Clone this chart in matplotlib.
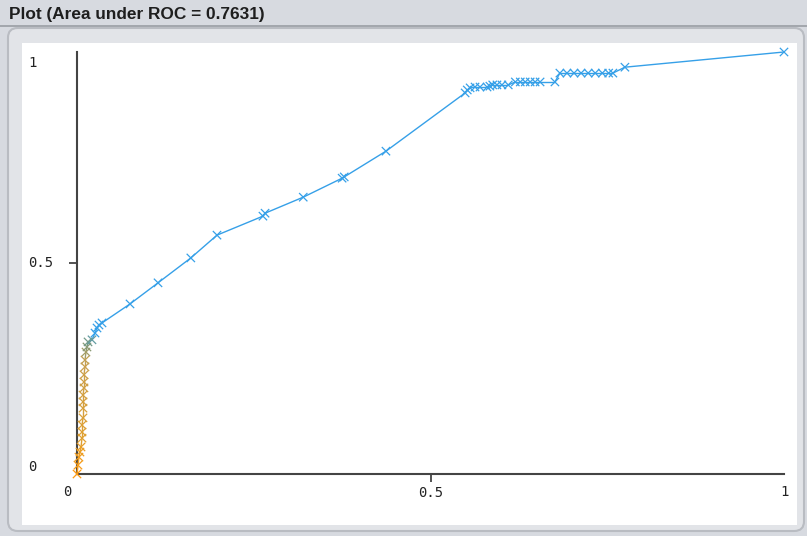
import matplotlib
matplotlib.use('Agg')
import matplotlib.pyplot as plt
from matplotlib.patches import FancyBboxPatch, Rectangle
from matplotlib.collections import LineCollection
from matplotlib.colors import LinearSegmentedColormap
import numpy as np

# ROC points (false positive rate, true positive rate)
fpr = [0.000, 0.0014, 0.0028, 0.0042, 0.0057, 0.0071, 0.0071, 0.0071, 0.0085, 0.0085,
       0.0085, 0.0085, 0.0099, 0.0099, 0.0099, 0.0113, 0.0113, 0.0127, 0.0141, 0.0156,
       0.0212, 0.0255, 0.0283, 0.0311, 0.0354,
       0.075, 0.1146, 0.161, 0.198, 0.263, 0.266, 0.320, 0.375, 0.378, 0.437,
       0.549, 0.552, 0.556, 0.563, 0.570, 0.580, 0.584, 0.588, 0.594, 0.601, 0.610,
       0.620, 0.627, 0.634, 0.641, 0.648, 0.655, 0.676,
       0.683, 0.693, 0.703, 0.713, 0.723, 0.733, 0.743, 0.752, 0.758, 0.775, 1.0]
tpr = [0.000, 0.021, 0.040, 0.052, 0.064, 0.085, 0.0995, 0.116, 0.133, 0.156,
       0.171, 0.187, 0.204, 0.218, 0.235, 0.254, 0.270, 0.289, 0.301, 0.313,
       0.318, 0.334, 0.346, 0.353, 0.358,
       0.403, 0.453, 0.512, 0.566, 0.611, 0.618, 0.656, 0.701, 0.704, 0.765,
       0.903, 0.910, 0.915, 0.917, 0.917, 0.917, 0.919, 0.922, 0.922, 0.922, 0.922,
       0.929, 0.929, 0.929, 0.929, 0.929, 0.929, 0.929,
       0.950, 0.950, 0.950, 0.950, 0.950, 0.950, 0.950, 0.950, 0.950, 0.964, 1.0]
auc = 0.7631

W, H = 807, 536
fig = plt.figure(figsize=(W / 100, H / 100), dpi=100)
fig.patch.set_facecolor('#d7dae0')

def px(x0, y0, w, h):
    # pixel box (top-left origin) -> figure fraction
    return (x0 / W, 1 - (y0 + h) / H, w / W, h / H)

# title bar + panel (behind the axes)
fig.patches.append(Rectangle((0, 1 - 27 / H), 1, 1.5 / H, transform=fig.transFigure,
                             facecolor='#a3a7ad', edgecolor='none', zorder=-2))
l, b, w, h = px(8, 28, 796, 503)
fig.patches.append(FancyBboxPatch((l, b), w, h, boxstyle='round,pad=0,rounding_size=0.012',
                                  transform=fig.transFigure, facecolor='#e2e4e8',
                                  edgecolor='#b9bcc2', linewidth=1.5, mutation_aspect=W / H,
                                  zorder=-2))
fig.text(9 / W, 1 - 14 / H, 'Plot (Area under ROC = %.4f)' % auc, fontsize=12.4,
         fontweight='bold', family='Liberation Sans', color='#1e1e1e', va='center', ha='left')

ax = fig.add_axes(px(22, 43, 775, 482))
ax.set_facecolor('white')
ax.set_xlim(-(77 - 22) / 707, 1 + (797 - 784) / 707)
ax.set_ylim(-(525 - 474) / 422, 1 + (52 - 43) / 422)
for s in ['top', 'right']:
    ax.spines[s].set_visible(False)
for s in ['left', 'bottom']:
    ax.spines[s].set_position(('data', 0))
    ax.spines[s].set_bounds(0, 1)
    ax.spines[s].set_color('#444444')
    ax.spines[s].set_linewidth(1.5)
ax.set_xticks([0.5])
ax.set_yticks([0.5])
ax.tick_params(length=6, width=1.3, color='#444444', labelbottom=False, labelleft=False)

lab = dict(family='DejaVu Sans Mono', fontsize=10, color='#222222')
ax.text(-0.0693, 0.974, '1', ha='left', va='center', **lab)
ax.text(-0.0693, 0.5, '0.5', ha='left', va='center', **lab)
ax.text(-0.0693, 0.0166, '0', ha='left', va='center', **lab)
ax.text(-0.0141, -0.043, '0', ha='center', va='center', **lab)
ax.text(0.5, -0.045, '0.5', ha='center', va='center', **lab)
ax.text(1.0, -0.043, '1', ha='center', va='center', **lab)

# colour along the curve: orange near the origin, through gold, to blue
cmap = LinearSegmentedColormap.from_list('roc', [(0, '#ff9a10'), (0.25, '#e0a030'),
                                                  (0.8, '#c8a050'), (0.93, '#7a9a80'),
                                                  (1.0, '#36a0e8')])
x = np.array(fpr)
y = np.array(tpr)
c = np.clip(y / 0.335, 0, 1)
cols = cmap(c)
segs = np.stack([np.column_stack([x[:-1], y[:-1]]), np.column_stack([x[1:], y[1:]])], axis=1)
ax.add_collection(LineCollection(segs, colors=cols[1:], linewidths=1.0, zorder=3))
ax.scatter(x, y, marker='x', s=36, c=cols, linewidths=0.9, zorder=4)

fig.savefig('out.png', dpi=100, facecolor=fig.get_facecolor())
